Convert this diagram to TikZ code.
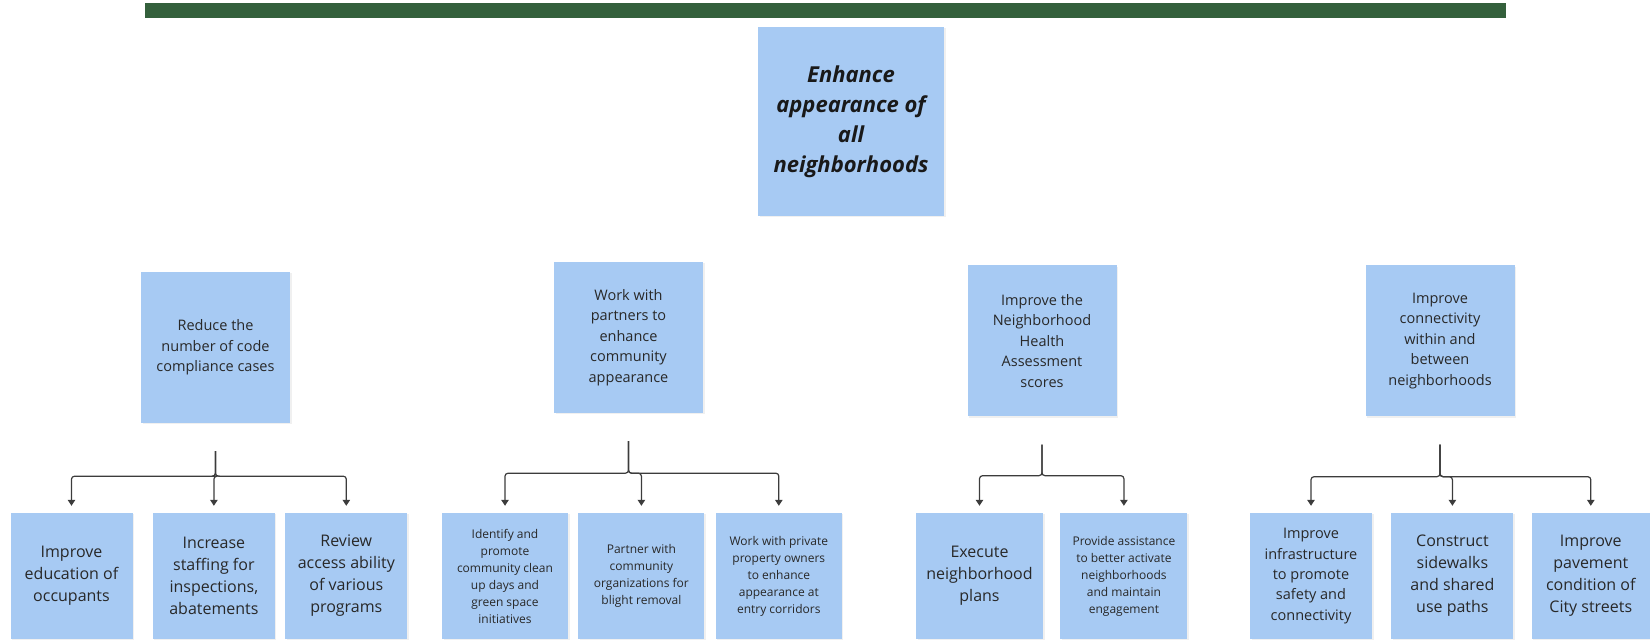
\documentclass[tikz,border=0pt]{standalone}
\usepackage{fontspec}
\setmainfont{Open Sans}
\usepackage{tikz}
\usetikzlibrary{shapes,arrows.meta,positioning,shadows}
\definecolor{boxblue}{RGB}{167, 202, 243}
\definecolor{bargreen}{RGB}{52, 96, 60}
\definecolor{textdark}{RGB}{40, 40, 40}
\definecolor{linegray}{RGB}{60, 60, 60}
\tikzstyle{card} = [rectangle, fill=boxblue, text=textdark, align=center, inner sep=0pt, drop shadow={opacity=0.12, shadow xshift=1.5pt, shadow yshift=-1.5pt}]
\tikzstyle{goal} = [card, minimum width=186pt, minimum height=189pt, text=black!90, font=\bfseries\itshape\fontsize{22}{30}\selectfont]
\tikzstyle{objective} = [card, minimum width=149pt, minimum height=151pt, font=\fontsize{14.5}{20.5}\selectfont]
\tikzstyle{action} = [card, minimum width=122pt, minimum height=126pt]
\tikzstyle{bigtxt} = [font=\fontsize{16}{22}\selectfont]
\tikzstyle{midtxt} = [font=\fontsize{14.5}{20.3}\selectfont]
\tikzstyle{smalltxt} = [font=\fontsize{12}{17}\selectfont]
\tikzstyle{link} = [draw=linegray, line width=1.2pt, rounded corners=3pt, -{Triangle[width=7.5pt,length=6pt]}]

\begin{document}
\begin{tikzpicture}[x=1pt, y=1pt]
\useasboundingbox (0,0) rectangle (1650,642);

% header bar =============================
\fill[bargreen] (145,624) rectangle (1506,639);

% goal and objectives ====================
\node[goal] (goal) at (851,520.5) {Enhance\\appearance of\\all\\neighborhoods};

\node[objective] (code) at (215.5,294.5) {Reduce the\\number of code\\compliance cases};
\node[objective] (partners) at (628.5,304.5) {Work with\\partners to\\enhance\\community\\appearance};
\node[objective] (health) at (1042,301) {Improve the\\Neighborhood\\Health\\Assessment\\scores};
\node[objective] (connect) at (1440,301) {Improve\\connectivity\\within and\\between\\neighborhoods};

% actions ================================
\node[action, bigtxt] (educ) at (71.5,66) {Improve\\education of\\occupants};
\node[action, bigtxt, right=20pt of educ] (staff) {Increase\\staffing for\\inspections,\\abatements};
\node[action, bigtxt, right=10pt of staff] (review) {Review\\access ability\\of various\\programs};

\node[action, smalltxt, minimum width=126pt] (cleanup) at (505,66) {Identify and\\promote\\community clean\\up days and\\green space\\initiatives};
\node[action, smalltxt, minimum width=126pt, right=10pt of cleanup] (blight) {Partner with\\community\\organizations for\\blight removal};
\node[action, smalltxt, minimum width=126pt, right=11pt of blight] (owners) {Work with private\\property owners\\to enhance\\appearance at\\entry corridors};

\node[action, bigtxt, minimum width=127pt] (plans) at (979.5,66) {Execute\\neighborhood\\plans};
\node[action, smalltxt, minimum width=127pt, right=17pt of plans] (assist) {Provide assistance\\to better activate\\neighborhoods\\and maintain\\engagement};

\node[action, midtxt] (infra) at (1311,66) {Improve\\infrastructure\\to promote\\safety and\\connectivity};
\node[action, bigtxt, right=19pt of infra] (walks) {Construct\\sidewalks\\and shared\\use paths};
\node[action, bigtxt, minimum width=118pt, right=18pt of walks] (pave) {Improve\\pavement\\condition of\\City streets};

% stems below objectives
\coordinate[below=28pt of code] (scode);
\coordinate[below=28pt of partners] (spartners);
\coordinate[below=28pt of health] (shealth);
\coordinate[below=28pt of connect] (sconnect);

% edges code compliance
\path[link] (scode) -- ++(0,-25pt) -| ([yshift=7pt]educ.north);
\path[link] (scode) -- ++(0,-25pt) -| ([yshift=7pt]staff.north);
\path[link] (scode) -- ++(0,-25pt) -| ([yshift=7pt]review.north);

% edges partners
\path[link] (spartners) -- ++(0,-32pt) -| ([yshift=7pt]cleanup.north);
\path[link] (spartners) -- ++(0,-32pt) -| ([yshift=7pt]blight.north);
\path[link] (spartners) -- ++(0,-32pt) -| ([yshift=7pt]owners.north);

% edges health scores
\path[link] (shealth) -- ++(0,-31pt) -| ([yshift=7pt]plans.north);
\path[link] (shealth) -- ++(0,-31pt) -| ([yshift=7pt]assist.north);

% edges connectivity
\path[link] (sconnect) -- ++(0,-32pt) -| ([yshift=7pt]infra.north);
\path[link] (sconnect) -- ++(0,-32pt) -| ([yshift=7pt]walks.north);
\path[link] (sconnect) -- ++(0,-32pt) -| ([yshift=7pt]pave.north);

\end{tikzpicture}
\end{document}
